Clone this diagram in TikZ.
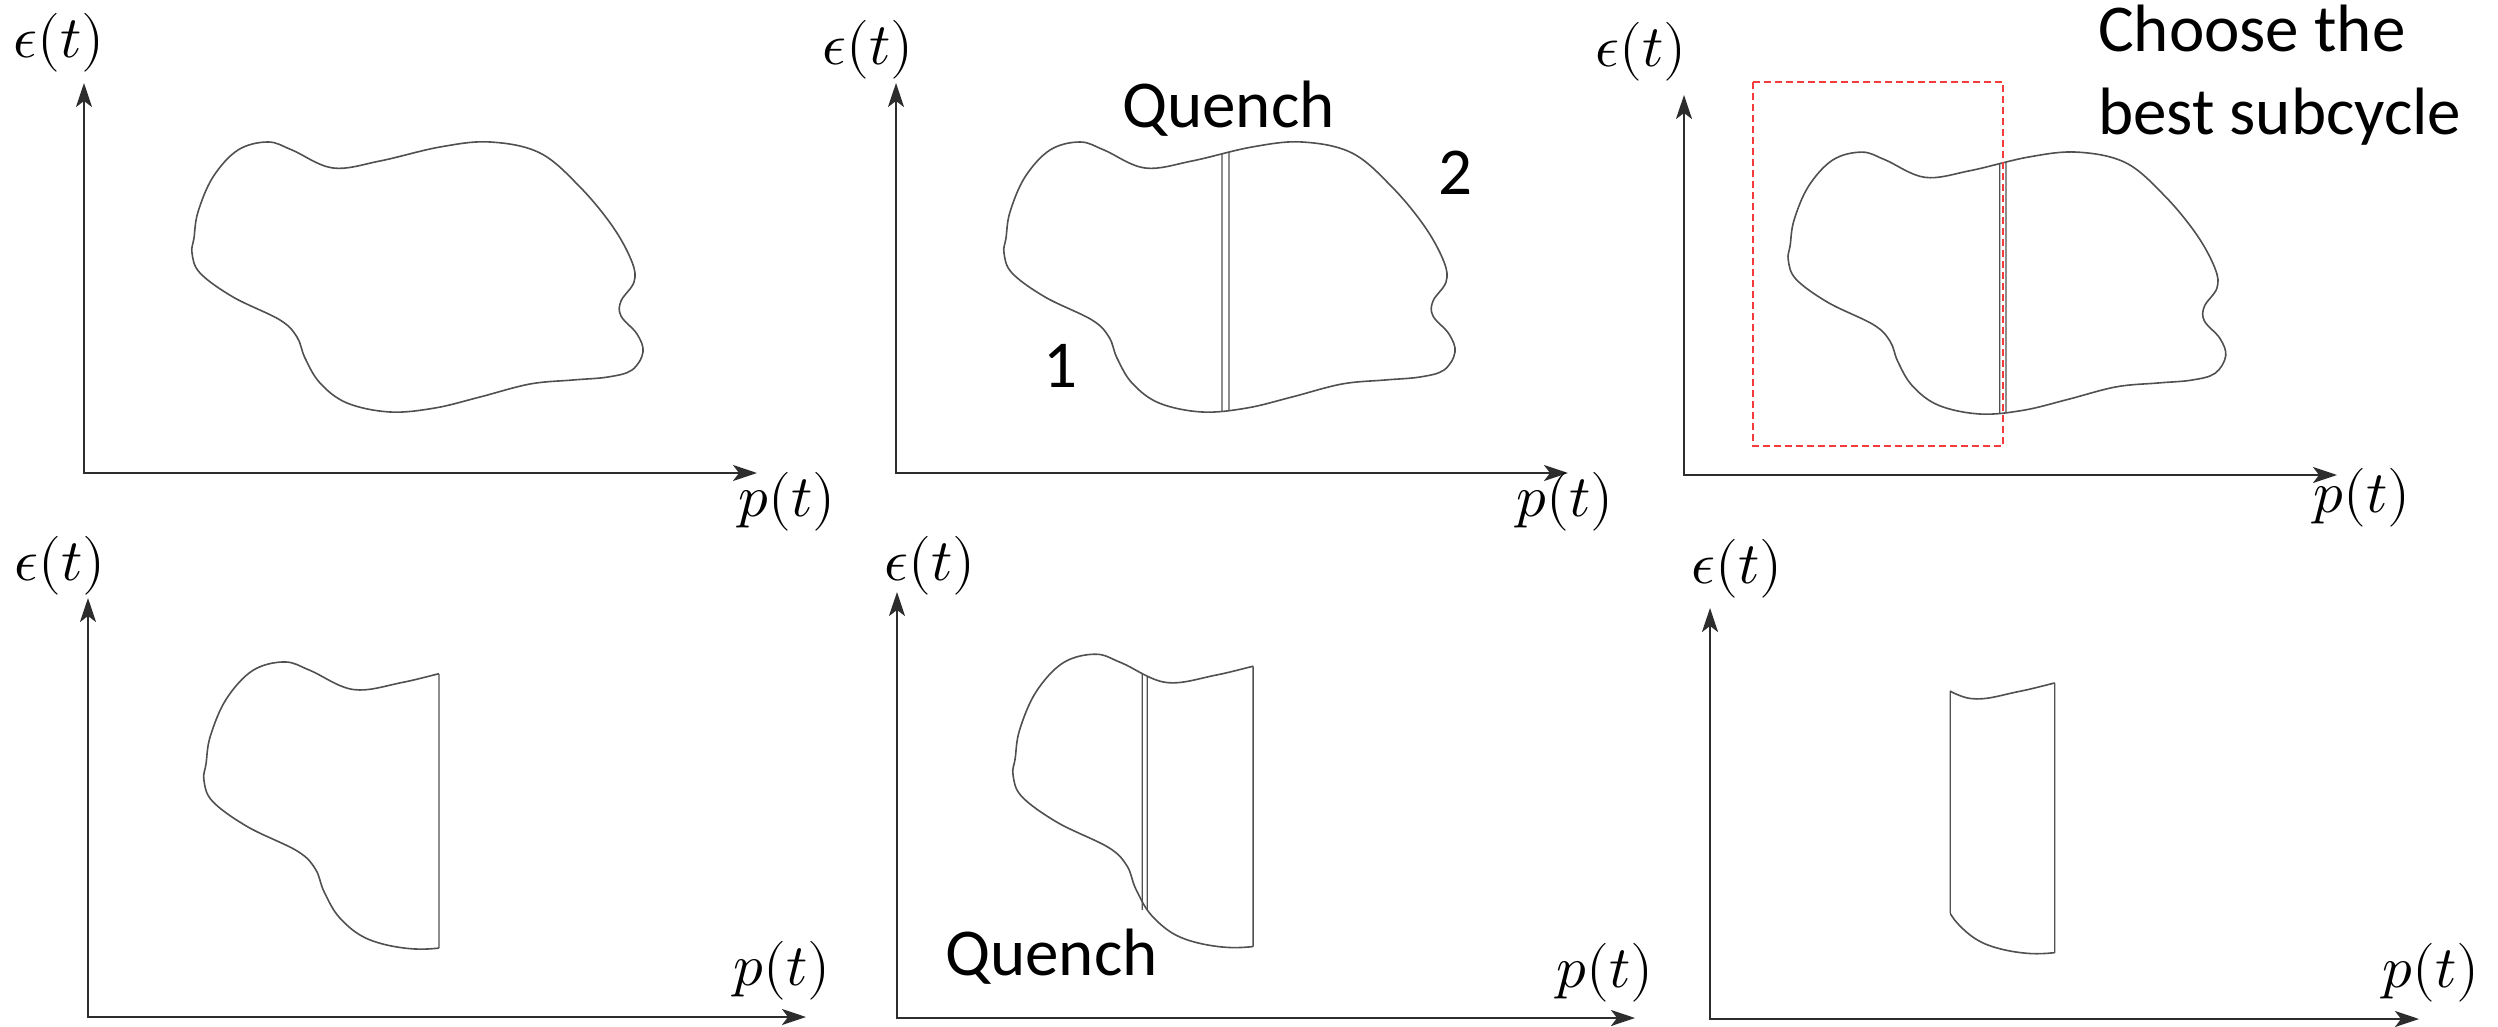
\documentclass[tikz,border=0pt]{standalone}
\usepackage{fontspec}
\usepackage{unicode-math}
\setsansfont{Carlito}
\usetikzlibrary{arrows.meta,intersections}
\definecolor{axisgray}{RGB}{45,45,45}
\definecolor{curvegray}{RGB}{80,80,80}
\definecolor{boxred}{RGB}{245,60,60}
\tikzset{
  axisline/.style={draw=axisgray, line width=2.6pt, arrows={Stealth[length=24pt,width=16pt,inset=6pt]-Stealth[length=24pt,width=16pt,inset=6pt]}},
  curve/.style={draw=curvegray, line width=1.6pt},
  qline/.style={draw=curvegray, line width=1.3pt},
  blobpath/.style={insert path={plot[smooth cycle, tension=0.6] coordinates {
    (268,142) (292,150) (333,168) (380,161) (440,147) (490,142) (540,153) (580,187)
    (613,227) (632,262) (634,282) (621,301) (621,316) (637,334) (643,352) (632,370)
    (608,377) (573,380) (530,384) (480,397) (435,408) (390,412) (347,403) (320,383)
    (305,358) (297,337) (280,320) (233,297) (200,273) (192,253) (194,238) (198,212)
    (213,177) (238,150)}}},
  mathlbl/.style={inner sep=0pt, font=\fontsize{59}{70}\selectfont},
  txt/.style={inner sep=0pt, anchor=base west, font=\sffamily\fontsize{67}{80}\selectfont}
}
\begin{document}
\begin{tikzpicture}[x=1pt,y=-1pt]
\useasboundingbox (0,0) rectangle (2498,1027);

% ---------- Panel 1 (top left) ----------
\coordinate (o1) at (84,473); \coordinate (y1) at (84,83); \coordinate (x1) at (757,473);
\draw[axisline] (y1) -- (o1) -- (x1);
\node[mathlbl] (e1) at (59,43) {$\epsilon(t)$};
\node[mathlbl] (p1) at (787,502) {$p(t)$};
\draw[curve, blobpath];

% ---------- Panel 2 (top middle) ----------
\coordinate (o2) at (896,473); \coordinate (y2) at (896,83); \coordinate (x2) at (1568,473);
\draw[axisline] (y2) -- (o2) -- (x2);
\node[mathlbl] (e2) at (868,50) {$\epsilon(t)$};
\node[mathlbl] (p2) at (1565,502) {$p(t)$};
\begin{scope}[shift={(812,0)}]
  \draw[curve, blobpath, name path=b2];
  \path[name path=c2a] (410,100) -- (410,450);
  \path[name path=c2b] (417,100) -- (417,450);
  \path[name intersections={of=b2 and c2a, name=qa}];
  \path[name intersections={of=b2 and c2b, name=qb}];
  \draw[qline] (qa-1) -- (qa-2);
  \draw[qline] (qb-1) -- (qb-2);
\end{scope}
\node[txt] (quenchtop) at (1122,128) {Quench};
\node[txt] (two) at (1438,195) {2};
\node[txt] (one) at (1043,387) {1};

% ---------- Panel 3 (top right) ----------
\coordinate (o3) at (1684,475); \coordinate (y3) at (1684,95); \coordinate (x3) at (2337,475);
\draw[axisline] (y3) -- (o3) -- (x3);
\node[mathlbl] (e3) at (1641,52) {$\epsilon(t)$};
\node[mathlbl] (p3) at (2362,498) {$p(t)$};
\begin{scope}[shift={(1602,14.4)}, scale=0.97]
  \draw[curve, blobpath, name path=b3];
  \path[name path=c3a] (410,100) -- (410,450);
  \path[name path=c3b] (416.5,100) -- (416.5,450);
  \path[name intersections={of=b3 and c3a, name=ra}];
  \path[name intersections={of=b3 and c3b, name=rb}];
  \draw[qline] (ra-1) -- (ra-2);
  \draw[qline] (rb-1) -- (rb-2);
\end{scope}
\coordinate (rbox1) at (1753,82); \coordinate (rbox2) at (2003,446);
\draw[boxred, line width=1.8pt, dash pattern=on 7pt off 4pt] (rbox1) rectangle (rbox2);
\node[txt] (choose1) at (2098,52) {Choose the};
\node[txt] (choose2) at (2098,135) {best subcycle};

% ---------- Panel 4 (bottom left) ----------
\coordinate (o4) at (88,1017); \coordinate (y4) at (88,598); \coordinate (x4) at (806,1017);
\draw[axisline] (y4) -- (o4) -- (x4);
\node[mathlbl] (e4) at (60,566) {$\epsilon(t)$};
\node[mathlbl] (p4) at (782,971) {$p(t)$};
\begin{scope}[shift={(-0.2,511)}, scale=1.063]
  \begin{scope}
    \clip (100,100) rectangle (413,450);
    \draw[curve, blobpath];
  \end{scope}
  \path[blobpath, name path=b4];
  \path[name path=c4] (413,100) -- (413,450);
  \path[name intersections={of=b4 and c4, name=sa}];
  \draw[qline] (sa-1) -- (sa-2);
\end{scope}

% ---------- Panel 5 (bottom middle) ----------
\coordinate (o5) at (897,1018); \coordinate (y5) at (897,592); \coordinate (x5) at (1635,1018);
\draw[axisline] (y5) -- (o5) -- (x5);
\node[mathlbl] (e5) at (930,566) {$\epsilon(t)$};
\node[mathlbl] (p5) at (1605,973) {$p(t)$};
\begin{scope}[shift={(804.5,500)}, scale=1.086]
  \begin{scope}
    \clip (100,100) rectangle (413,450);
    \draw[curve, blobpath];
  \end{scope}
  \path[blobpath, name path=b5];
  \path[name path=c5] (413,100) -- (413,450);
  \path[name path=c5a] (311,100) -- (311,450);
  \path[name path=c5b] (315.5,100) -- (315.5,450);
  \path[name intersections={of=b5 and c5, name=ta}];
  \path[name intersections={of=b5 and c5a, name=tb}];
  \path[name intersections={of=b5 and c5b, name=tc}];
  \draw[qline] (ta-1) -- (ta-2);
  \draw[qline, shorten >=-8pt] (tb-1) -- (tb-2);
  \draw[qline] (tc-1) -- (tc-2);
\end{scope}
\node[txt] (quenchbot) at (945,975) {Quench};

% ---------- Panel 6 (bottom right) ----------
\coordinate (o6) at (1710,1019); \coordinate (y6) at (1710,608); \coordinate (x6) at (2419,1019);
\draw[axisline] (y6) -- (o6) -- (x6);
\node[mathlbl] (e6) at (1737,569) {$\epsilon(t)$};
\node[mathlbl] (p6) at (2431,973) {$p(t)$};
\begin{scope}[shift={(1623,523)}, scale=1.045]
  \begin{scope}
    \clip (313,100) rectangle (413,450);
    \draw[curve, blobpath];
  \end{scope}
  \path[blobpath, name path=b6];
  \path[name path=c6a] (313,100) -- (313,450);
  \path[name path=c6b] (413,100) -- (413,450);
  \path[name intersections={of=b6 and c6a, name=ua}];
  \path[name intersections={of=b6 and c6b, name=ub}];
  \draw[qline] (ua-1) -- (ua-2);
  \draw[qline] (ub-1) -- (ub-2);
\end{scope}
\end{tikzpicture}
\end{document}
